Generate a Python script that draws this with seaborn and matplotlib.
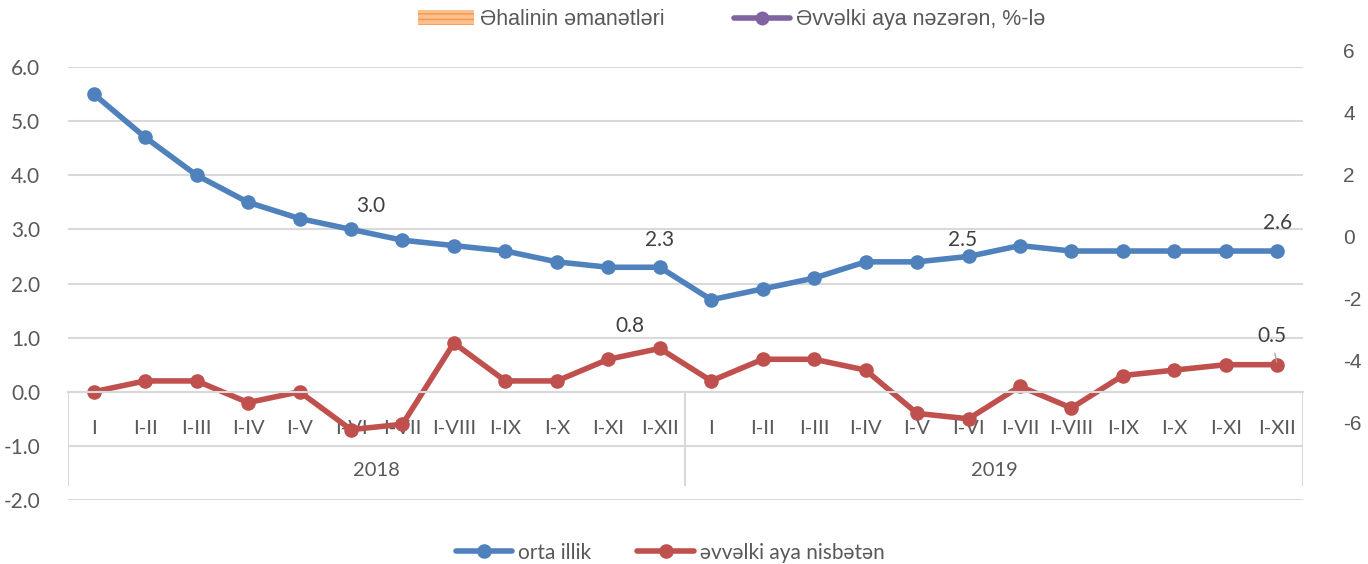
import numpy as np
import matplotlib
matplotlib.use("Agg")
import matplotlib.pyplot as plt
import seaborn as sns
from matplotlib.patches import Patch
from matplotlib.lines import Line2D

# --- data ---
months = ["I", "I-II", "I-III", "I-IV", "I-V", "I-VI", "I-VII", "I-VIII",
          "I-IX", "I-X", "I-XI", "I-XII"]
years = ["2018", "2019"]
orta_illik = [5.5, 4.7, 4.0, 3.5, 3.2, 3.0, 2.8, 2.7, 2.6, 2.4, 2.3, 2.3,
              1.7, 1.9, 2.1, 2.4, 2.4, 2.5, 2.7, 2.6, 2.6, 2.6, 2.6, 2.6]
evvelki_aya = [0.0, 0.2, 0.2, -0.2, 0.0, -0.7, -0.6, 0.9, 0.2, 0.2, 0.6, 0.8,
               0.2, 0.6, 0.6, 0.4, -0.4, -0.5, 0.1, -0.3, 0.3, 0.4, 0.5, 0.5]
labels_orta = [5, 11, 17, 23]   # indices with data labels
labels_evvelki = [11, 23]

BLUE = "#4F81BD"
RED = "#C0504D"
GRID = "#D9D9D9"
TXT = "#595959"
LBL = "#404040"

sns.set_theme(style="white")
plt.rcParams["font.family"] = ["Lato", "DejaVu Sans"]
plt.rcParams["axes.unicode_minus"] = False

W, H = 1368, 564
fig = plt.figure(figsize=(W / 100, H / 100), dpi=100)
ax = fig.add_axes([68 / W, 64 / H, (1303 - 68) / W, 433 / H])

n = len(months) * len(years)
pos = np.arange(n)
lw = 4.0
ms = 10.5

sns.lineplot(x=pos, y=orta_illik, ax=ax, color=BLUE, lw=lw, marker="o",
             markersize=ms, markeredgewidth=0, legend=False)
sns.lineplot(x=pos, y=evvelki_aya, ax=ax, color=RED, lw=lw, marker="o",
             markersize=ms, markeredgewidth=0, legend=False)

ax.set_xlim(-0.5, n - 0.5)
ax.set_ylim(-2, 6)
ax.set_yticks(np.arange(-2, 7, 1))
ax.set_yticklabels([f"{v:.1f}" for v in np.arange(-2, 7, 1)])
ax.yaxis.grid(True, color=GRID, lw=1.5)
ax.set_axisbelow(True)
for s in ["top", "right", "left"]:
    ax.spines[s].set_visible(False)
ax.spines["bottom"].set_position(("data", 0))
ax.spines["bottom"].set_color(GRID)
ax.spines["bottom"].set_linewidth(1.5)

ax.set_xticks(pos)
ax.set_xticklabels(months * len(years))
ax.tick_params(axis="x", length=0, pad=20, labelsize=14.5, colors=TXT)
ax.tick_params(axis="y", length=0, pad=20, labelsize=15, colors=TXT)

# multi-level category axis
per = len(months)
ax.vlines([-0.5 + k * per for k in range(len(years) + 1)], -1.75, 0,
          color=GRID, lw=1.5, zorder=1)
for k, yr in enumerate(years):
    ax.text(k * per + (per - 1) / 2, -1.46, yr, ha="center", va="center",
            fontsize=14.5, color=TXT)

# data labels (offsets in px)
offs_orta = {5: (20, 23), 11: (0, 27), 17: (-6, 16), 23: (0, 28)}
for i in labels_orta:
    dx, dy = offs_orta[i]
    ax.annotate(f"{orta_illik[i]:.1f}", (pos[i], orta_illik[i]),
                xytext=(dx * 0.72, dy * 0.72), textcoords="offset points",
                ha="center", va="center", fontsize=15, color=LBL)
offs_ev = {11: (-30, 22), 23: (-5, 29)}
for i in labels_evvelki:
    dx, dy = offs_ev[i]
    ax.annotate(f"{evvelki_aya[i]:.1f}", (pos[i], evvelki_aya[i]),
                xytext=(dx * 0.72, dy * 0.72), textcoords="offset points",
                ha="center", va="center", fontsize=15, color=LBL)
# leader line for the last red label
ax.annotate("", (pos[23], evvelki_aya[23]), xytext=(-3 * 0.72, 14 * 0.72),
            textcoords="offset points",
            arrowprops=dict(arrowstyle="-", color="#A6A6A6", lw=1))

# secondary (empty) axis on the right
axr = fig.add_axes([68 / W, (H - 423) / H, (1303 - 68) / W, 373 / H])
axr.set_ylim(-6, 6)
axr.set_yticks(np.arange(-6, 7, 2))
axr.patch.set_alpha(0)
axr.set_xticks([])
for s in axr.spines.values():
    s.set_visible(False)
axr.yaxis.tick_right()
axr.tick_params(axis="y", length=0, pad=29, labelsize=15, colors=TXT)
for t in axr.get_yticklabels():
    t.set_fontfamily(["Liberation Sans", "DejaVu Sans"])

# top legend (from the original chart template)
top_handles = [
    Patch(facecolor="#FAC090", edgecolor="#F79646", hatch="---", lw=0),
    Line2D([], [], color="#8064A2", lw=4, marker="o", markersize=9),
]
leg1 = fig.legend(top_handles, ["Əhalinin əmanətləri", "Əvvəlki aya nəzərən, %-lə"],
                  loc="center", bbox_to_anchor=(0.535, 0.965), ncol=2,
                  frameon=False, handlelength=2.6,
                  columnspacing=3.2, handletextpad=0.3,
                  prop={"family": ["Liberation Sans", "DejaVu Sans"], "size": 15.5})
for t in leg1.get_texts():
    t.set_color(TXT)

# bottom legend
bot_handles = [
    Line2D([], [], color=BLUE, lw=lw, marker="o", markersize=ms, markeredgewidth=0),
    Line2D([], [], color=RED, lw=lw, marker="o", markersize=ms, markeredgewidth=0),
]
leg2 = fig.legend(bot_handles, ["orta illik", "əvvəlki aya nisbətən"],
                  loc="center", bbox_to_anchor=(0.49, 0.02), ncol=2,
                  frameon=False, fontsize=15, handlelength=2.7,
                  columnspacing=2.2, handletextpad=0.3)
for t in leg2.get_texts():
    t.set_color(TXT)

fig.savefig("out.png", dpi=100)
